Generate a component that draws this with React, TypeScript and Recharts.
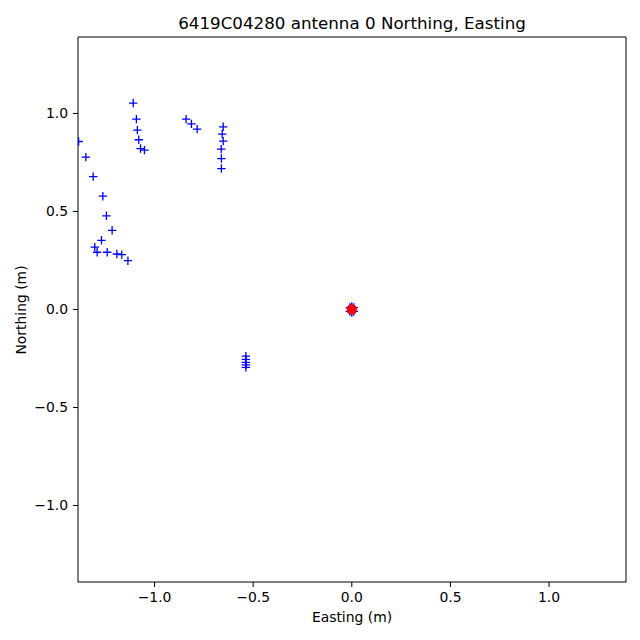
import React from 'react';
import { ScatterChart, Scatter, XAxis, YAxis } from 'recharts';

const title = '6419C04280 antenna 0 Northing, Easting';
const xLabel = 'Easting (m)';
const yLabel = 'Northing (m)';

const xTicks = [-1.0, -0.5, 0.0, 0.5, 1.0];
const yTicks = [-1.0, -0.5, 0.0, 0.5, 1.0];
const xDomain = [-1.388, 1.39];
const yDomain = [-1.39, 1.39];

// Easting values of blue "+" history points
const eastingHist = [
  -1.385, -1.348, -1.311, -1.262, -1.244, -1.215, -1.269, -1.303, -1.291, -1.24,
  -1.191, -1.166, -1.135,
  -1.108, -1.092, -1.087, -1.08, -1.071, -1.051,
  -0.84, -0.813, -0.784,
  -0.652, -0.657, -0.652, -0.662, -0.661, -0.661,
  -0.537, -0.537, -0.537, -0.537, -0.537,
  0.0, 0.0, 0.01, -0.01, 0.01, -0.01, 0.0,
];
// Northing values of blue "+" history points
const northingHist = [
  0.857, 0.777, 0.678, 0.578, 0.478, 0.404, 0.353, 0.318, 0.292, 0.292,
  0.283, 0.28, 0.249,
  1.053, 0.971, 0.915, 0.866, 0.821, 0.813,
  0.971, 0.947, 0.92,
  0.932, 0.895, 0.859, 0.818, 0.77, 0.719,
  -0.238, -0.254, -0.27, -0.282, -0.295,
  0.016, -0.016, 0.01, 0.01, -0.01, -0.01, 0.0,
];
// current position (red dot)
const eastingNow = [0.0];
const northingNow = [0.0];

const histData = eastingHist.map((e, i) => ({ e, n: northingHist[i] }));
const nowData = eastingNow.map((e, i) => ({ e, n: northingNow[i] }));

const fmt = (v: number) => v.toFixed(1).replace('-', '\u2212');

const Plus = (props: any) => {
  const { cx, cy } = props;
  const s = 4.2;
  return (
    <path
      d={`M${cx - s},${cy}H${cx + s}M${cx},${cy - s}V${cy + s}`}
      stroke="#0000ff"
      strokeWidth={1.3}
      fill="none"
    />
  );
};

const Dot = (props: any) => {
  const { cx, cy } = props;
  return <circle cx={cx} cy={cy} r={4.9} fill="#ff0000" stroke="#ff0000" strokeWidth={0.5} />;
};

const font = 'DejaVu Sans';
const tickStyle = { fontSize: 13.9, fill: '#000', fontFamily: font };

export default function App() {
  return (
    <div style={{ position: 'absolute', left: 0, top: 0, width: 640, height: 640, background: '#fff' }}>
      <ScatterChart
        width={640}
        height={640}
        margin={{ top: 36, right: 13, bottom: 0, left: 0 }}
      >
        <XAxis
          xAxisId="b"
          type="number"
          dataKey="e"
          domain={xDomain}
          allowDataOverflow
          ticks={xTicks}
          tickFormatter={fmt}
          height={58}
          tickSize={5}
          tickMargin={5}
          stroke="#000"
          tick={tickStyle}
          interval={0}
        />
        <XAxis
          xAxisId="t"
          orientation="top"
          type="number"
          domain={xDomain}
          allowDataOverflow
          height={1}
          ticks={xTicks}
          tick={false}
          tickLine={false}
          stroke="#000"
        />
        <YAxis
          yAxisId="l"
          type="number"
          dataKey="n"
          domain={yDomain}
          allowDataOverflow
          ticks={yTicks}
          tickFormatter={fmt}
          width={78}
          tickSize={5}
          tickMargin={5}
          stroke="#000"
          tick={tickStyle}
          interval={0}
        />
        <YAxis
          yAxisId="r"
          orientation="right"
          type="number"
          domain={yDomain}
          allowDataOverflow
          width={1}
          ticks={yTicks}
          tick={false}
          tickLine={false}
          stroke="#000"
        />
        <Scatter
          xAxisId="b"
          yAxisId="l"
          data={histData}
          shape={Plus}
          isAnimationActive={false}
        />
        <Scatter
          xAxisId="b"
          yAxisId="l"
          data={nowData}
          shape={Dot}
          isAnimationActive={false}
        />
      </ScatterChart>
      <svg
        width={640}
        height={640}
        style={{ position: 'absolute', left: 0, top: 0, pointerEvents: 'none' }}
      >
        <text x={352} y={29} textAnchor="middle" fontFamily={font} fontSize={16.7} fill="#000">
          {title}
        </text>
        <text x={352} y={622} textAnchor="middle" fontFamily={font} fontSize={13.9} fill="#000">
          {xLabel}
        </text>
        <text
          x={26}
          y={310}
          textAnchor="middle"
          fontFamily={font}
          fontSize={13.9}
          fill="#000"
          transform="rotate(-90 26 310)"
        >
          {yLabel}
        </text>
      </svg>
    </div>
  );
}
